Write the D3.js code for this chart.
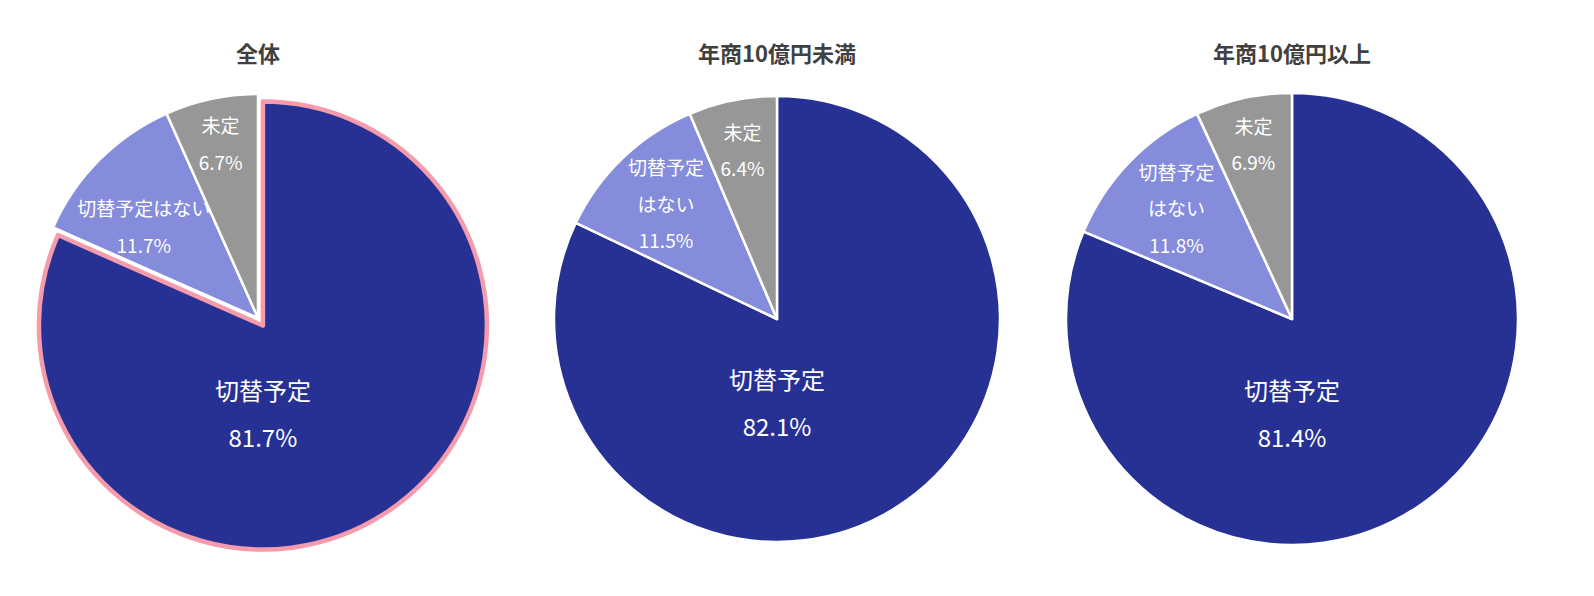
<!DOCTYPE html>
<html>
<head>
<meta charset="utf-8">
<script src="https://cdn.jsdelivr.net/npm/d3@7"></script>
<style>
  html, body { margin: 0; padding: 0; background: #fff; }
  svg { display: block; font-family: "Noto Sans CJK JP", "Noto Sans", sans-serif; }
</style>
</head>
<body>
<div id="chart"></div>
<script>
// chart data
const titles = ["全体", "年商10億円未満", "年商10億円以上"];
const categories = ["切替予定", "切替予定はない", "未定"];
const valuesAll = [81.7, 11.7, 6.7];
const valuesUnder10 = [82.1, 11.5, 6.4];
const valuesOver10 = [81.4, 11.8, 6.9];
// how each slice label is split into lines, per pie
const labelLines = [
  [["切替予定"], ["切替予定はない"], ["未定"]],
  [["切替予定"], ["切替予定", "はない"], ["未定"]],
  [["切替予定"], ["切替予定", "はない"], ["未定"]]
];
const highlighted = [0, -1, -1]; // slice drawn with pink outline and pulled out

const colors = ["#263193", "#858CDB", "#979797"];
const highlightColor = "#F59BAC";

// layout of each pie (center, radius, label radius factors)
const layout = [
  {cx: 258, cy: 318, r: 224, explode: 9, main: 0.39, labels: [null, {f: 0.655, da: -6}, {f: 0.80, da: 0}]},
  {cx: 777, cy: 319, r: 223, explode: 0, main: 0.37, labels: [null, {f: 0.72, da: 0}, {f: 0.775, da: 0}]},
  {cx: 1292, cy: 319, r: 226, explode: 0, main: 0.415, labels: [null, {f: 0.71, da: 0}, {f: 0.795, da: 0}]}
];

const width = 1594, height = 596;
const series = [valuesAll, valuesUnder10, valuesOver10];

const svg = d3.select("#chart").append("svg")
  .attr("width", width)
  .attr("height", height);

const pie = d3.pie().sort(null).value(d => d.value);

series.forEach(function(values, p) {
  const L = layout[p];
  const g = svg.append("g").attr("transform", "translate(" + L.cx + "," + L.cy + ")");

  // title
  svg.append("text")
    .attr("x", L.cx)
    .attr("y", 52)
    .attr("text-anchor", "middle")
    .attr("dominant-baseline", "central")
    .style("font-size", "22px")
    .style("font-weight", "bold")
    .style("fill", "#404040")
    .text(titles[p]);

  const data = values.map((v, i) => ({key: categories[i], value: v, lines: labelLines[p][i]}));
  const arcs = pie(data);
  const arc = d3.arc().innerRadius(0).outerRadius(L.r);

  // shift of a slice pulled out of the pie
  function shift(d, i) {
    if (i !== highlighted[p]) return [0, 0];
    const a = (d.startAngle + d.endAngle) / 2;
    return [Math.sin(a) * L.explode, -Math.cos(a) * L.explode];
  }

  // draw non-highlighted first so the pink outline sits on top
  const order = arcs.map((d, i) => i).sort((a, b) => (a === highlighted[p]) - (b === highlighted[p]));

  g.selectAll("path.slice")
    .data(order.map(i => ({d: arcs[i], i: i})))
    .enter()
    .append("path")
      .attr("class", "slice")
      .attr("transform", o => "translate(" + shift(o.d, o.i) + ")")
      .attr("d", o => arc(o.d))
      .style("fill", o => colors[o.i])
      .style("stroke", o => o.i === highlighted[p] ? highlightColor : "#fff")
      .style("stroke-width", o => o.i === highlighted[p] ? 4.5 : 2.5)
      .style("stroke-linejoin", "round");

  // labels
  arcs.forEach(function(d, i) {
    const off = shift(d, i);
    let x, y, fs, lh;
    if (i === 0) {
      // big label placed straight below the center
      x = off[0];
      y = off[1] + L.main * L.r;
      fs = 24; lh = 47;
    } else {
      const lp = L.labels[i];
      const a = (d.startAngle + d.endAngle) / 2 + lp.da * Math.PI / 180;
      x = Math.sin(a) * lp.f * L.r;
      y = -Math.cos(a) * lp.f * L.r;
      fs = 19; lh = 36.5;
    }
    const lines = d.data.lines.concat([d3.format(".1f")(d.data.value) + "%"]);
    const top = y - (lines.length - 1) * lh / 2;
    lines.forEach(function(t, k) {
      g.append("text")
        .attr("x", x)
        .attr("y", top + k * lh)
        .attr("text-anchor", "middle")
        .attr("dominant-baseline", "central")
        .style("font-size", fs + "px")
        .style("fill", "#fff")
        .text(t);
    });
  });
});
</script>
</body>
</html>
